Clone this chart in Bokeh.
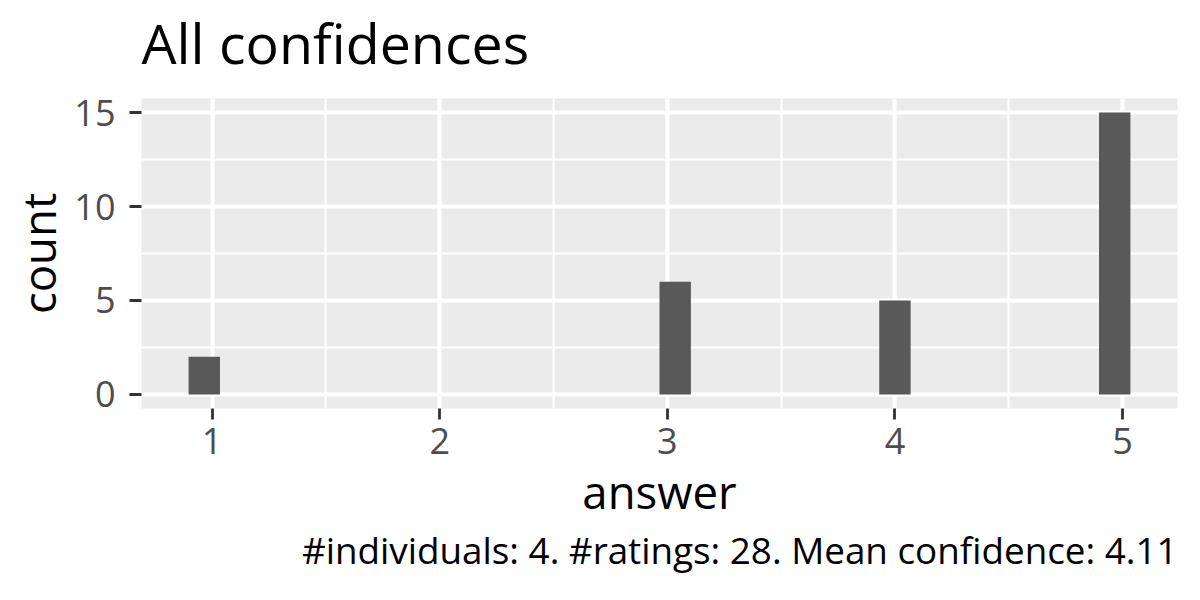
import numpy as np
from bokeh.plotting import figure
from bokeh.models import FixedTicker, Range1d, Title, ColumnDataSource
from bokeh.embed import file_html
from bokeh.resources import INLINE

answers = [1, 2, 3, 4, 5]
counts = [2, 0, 6, 5, 15]
x_ticks = [1, 2, 3, 4, 5]
x_minor = [1.5, 2.5, 3.5, 4.5]
y_ticks = [0, 5, 10, 15]
y_minor = [2.5, 7.5, 12.5]
title_text = "All confidences"
x_label = "answer"
y_label = "count"
caption_text = "#individuals: 4. #ratings: 28. Mean confidence: 4.11"

FONT = "Open Sans"
SHIFT = 17  # empty space above the title glyphs that is scrolled off the page

# histogram bins like ggplot's default (30 bins over data range)
lo, hi = min(answers), max(answers)
bw = (hi - lo) / 29
centers = [round(a / bw) * bw for a in answers]
left_edge = min(centers) - bw / 2
right_edge = max(centers) + bw / 2
xpad = (right_edge - left_edge) * 0.05
ypad = max(counts) * 0.05
xr = Range1d(left_edge - xpad, right_edge + xpad)
yr = Range1d(-ypad, max(counts) + ypad)

src = ColumnDataSource(dict(x=centers, top=counts))

p = figure(
    output_backend="svg", toolbar_location=None,
    width=1184, height=584 + SHIFT,
    min_border_left=141, min_border_right=7,
    min_border_top=98 + SHIFT, min_border_bottom=176,
    x_range=xr, y_range=yr,
)
p.styles = {"margin-top": f"-{SHIFT}px"}

p.vbar(x="x", top="top", bottom=0, width=bw, source=src,
       fill_color="#595959", line_color=None)

p.background_fill_color = "#EBEBEB"
p.border_fill_color = "white"
p.outline_line_color = None

p.xaxis.ticker = FixedTicker(ticks=x_ticks, minor_ticks=x_minor)
p.yaxis.ticker = FixedTicker(ticks=y_ticks, minor_ticks=y_minor)

for g in (p.xgrid, p.ygrid):
    g.grid_line_color = "white"
    g.grid_line_width = 4.2
    g.minor_grid_line_color = "white"
    g.minor_grid_line_width = 2.1

for ax in (p.xaxis, p.yaxis):
    ax.axis_line_color = None
    ax.major_tick_line_color = "#333333"
    ax.major_tick_line_width = 2.8
    ax.major_tick_in = 0
    ax.minor_tick_line_color = None
    ax.major_label_text_font = FONT
    ax.major_label_text_font_size = "36px"
    ax.major_label_text_color = "#4D4D4D"
    ax.axis_label_text_font = FONT
    ax.axis_label_text_font_size = "45.5px"
    ax.axis_label_text_font_style = "normal"
    ax.axis_label_text_color = "black"

p.xaxis.axis_label = x_label
p.yaxis.axis_label = y_label
p.xaxis.major_tick_out = 11
p.yaxis.major_tick_out = 12
p.xaxis.major_label_standoff = 8
p.yaxis.major_label_standoff = 14
p.xaxis.axis_label_standoff = 3
p.yaxis.axis_label_standoff = 2

p.title.text = title_text
p.title.text_font = FONT
p.title.text_font_size = "55.5px"
p.title.text_font_style = "normal"
p.title.text_color = "black"
p.title.align = "left"
p.title.standoff = 37

cap = Title(text=caption_text, align="right", text_font=FONT,
            text_font_size="36.8px", text_font_style="normal",
            text_color="black", standoff=-4)
p.add_layout(cap, "below")

open("out.html", "w").write(file_html(p, INLINE))
